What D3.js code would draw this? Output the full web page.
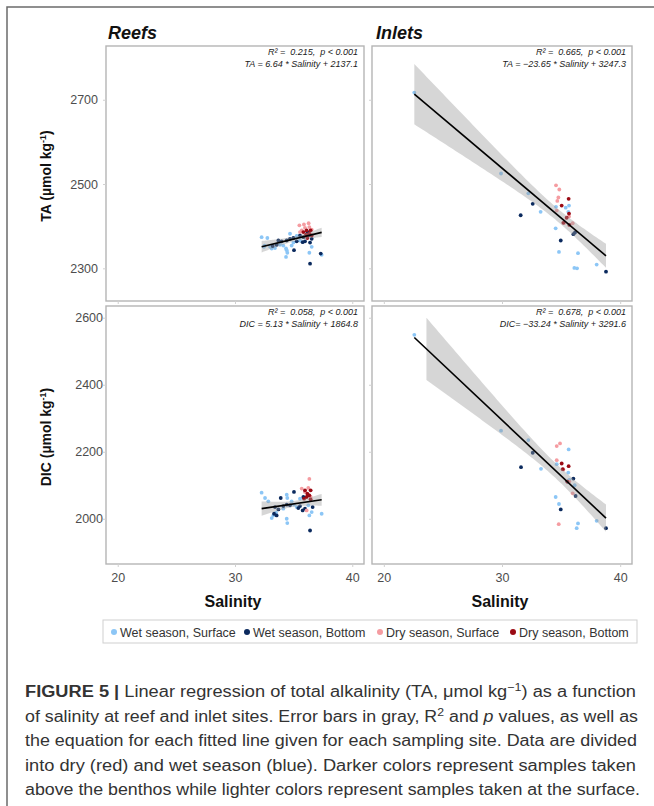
<!DOCTYPE html>
<html>
<head>
<meta charset="utf-8">
<script src="https://cdn.jsdelivr.net/npm/d3@7"></script>
<style>
  body { margin: 0; background: #fff; }
  svg { display: block; }
</style>
</head>
<body>
<svg id="chart" width="654" height="806"></svg>
<script>
(function () {
  'use strict';

  // axis ticks
  var salinityTicks = [20, 30, 40];
  var taTicks = [2300, 2500, 2700];
  var dicTicks = [2000, 2200, 2400, 2600];

  // groups: 0 wet/surface, 1 wet/bottom, 2 dry/surface, 3 dry/bottom
  var groupNames = ['Wet season, Surface', 'Wet season, Bottom', 'Dry season, Surface', 'Dry season, Bottom'];
  var groupColors = ['#8cc6f6', '#0b2a5e', '#f59ca1', '#9b0a14'];

  // [salinity, value, group]
  var reefTA = [
    [32.27, 2374, 0], [32.76, 2372, 0], [32.53, 2354, 0], [32.47, 2351, 0], [33.13, 2347, 0],
    [33.41, 2348, 0], [32.99, 2351, 0], [33.84, 2356, 0], [34.12, 2354, 0], [34.35, 2347, 0],
    [34.41, 2343, 0], [34.46, 2337, 0], [34.35, 2327, 0], [34.69, 2382, 0], [34.83, 2354, 0],
    [34.98, 2361, 0], [35.26, 2377, 0], [35.54, 2366, 0], [36.11, 2377, 0], [36.34, 2337, 0],
    [36.54, 2351, 0], [37.39, 2332, 0],
    [33.21, 2353, 1], [33.55, 2356, 1], [33.70, 2366, 1], [33.98, 2364, 1], [34.41, 2366, 1],
    [34.69, 2370, 1], [34.98, 2372, 1], [35.03, 2343, 1], [35.26, 2364, 1], [35.54, 2378, 1],
    [35.77, 2362, 1], [35.83, 2374, 1], [35.97, 2364, 1], [36.17, 2386, 1], [36.25, 2378, 1],
    [36.40, 2361, 1], [36.54, 2370, 1], [36.40, 2311, 1], [37.31, 2335, 1],
    [35.49, 2402, 2], [35.88, 2404, 2], [36.28, 2407, 2], [35.97, 2396, 2], [35.69, 2390, 2],
    [36.34, 2398, 2], [35.54, 2386, 2], [36.54, 2392, 2],
    [35.83, 2386, 3], [36.11, 2390, 3], [36.45, 2390, 3], [36.54, 2378, 3], [36.17, 2372, 3],
    [36.34, 2382, 3], [36.06, 2380, 3]
  ];
  var inletTA = [
    [22.58, 2717, 0], [29.92, 2525, 0], [32.23, 2478, 0], [33.27, 2434, 0], [34.57, 2446, 0],
    [35.39, 2444, 0], [35.67, 2449, 0], [35.61, 2434, 0], [34.54, 2395, 0], [34.82, 2339, 0],
    [36.43, 2336, 0], [36.12, 2301, 0], [36.35, 2300, 0], [38.01, 2309, 0],
    [31.58, 2426, 1], [32.60, 2453, 1], [34.97, 2366, 1], [36.04, 2381, 1], [36.18, 2385, 1],
    [38.80, 2292, 1],
    [34.57, 2497, 2], [34.85, 2487, 2], [34.77, 2468, 2], [34.68, 2460, 2], [34.63, 2437, 2],
    [35.28, 2408, 2], [35.98, 2407, 2], [35.67, 2423, 2],
    [35.64, 2465, 3], [35.05, 2449, 3], [35.67, 2430, 3], [35.47, 2420, 3], [35.19, 2408, 3],
    [35.70, 2403, 3]
  ];
  var reefDIC = [
    [32.27, 2078, 0], [32.56, 2062, 0], [32.84, 2052, 0], [33.27, 2010, 0], [33.13, 2002, 0],
    [33.50, 2018, 0], [34.12, 2030, 0], [34.41, 2072, 0], [34.46, 2062, 0], [34.41, 2000, 0],
    [34.46, 1987, 0], [34.83, 2052, 0], [35.03, 2042, 0], [35.26, 2035, 0], [35.54, 2060, 0],
    [35.97, 2082, 0], [36.25, 2040, 0], [36.34, 2010, 0], [36.54, 2020, 0], [37.39, 2015, 0],
    [33.33, 2015, 1], [33.41, 2035, 1], [33.55, 2010, 1], [33.70, 2028, 1], [33.90, 2062, 1],
    [34.12, 2038, 1], [34.41, 2042, 1], [34.69, 2040, 1], [35.03, 2080, 1], [35.40, 2032, 1],
    [35.54, 2038, 1], [35.77, 2025, 1], [35.83, 2065, 1], [35.97, 2030, 1], [36.25, 2070, 1],
    [36.62, 2035, 1], [36.40, 1965, 1],
    [35.69, 2090, 2], [36.25, 2092, 2], [35.97, 2080, 2], [36.45, 2065, 2], [36.11, 2025, 2],
    [36.34, 2119, 2],
    [35.97, 2085, 3], [36.45, 2085, 3], [36.17, 2075, 3], [36.34, 2070, 3], [36.11, 2065, 3],
    [36.45, 2058, 3], [35.89, 2060, 3]
  ];
  var inletDIC = [
    [22.58, 2549, 0], [29.92, 2263, 0], [32.23, 2235, 0], [33.30, 2149, 0], [34.63, 2163, 0],
    [35.64, 2207, 0], [35.61, 2138, 0], [35.70, 2116, 0], [34.54, 2065, 0], [34.82, 2044, 0],
    [36.15, 2100, 0], [36.43, 1986, 0], [36.32, 1972, 0], [38.01, 1994, 0],
    [31.61, 2154, 1], [32.60, 2197, 1], [34.97, 2028, 1], [36.04, 2120, 1], [36.23, 2068, 1],
    [38.80, 1972, 1], [35.53, 2111, 1],
    [34.63, 2217, 2], [34.91, 2225, 2], [34.63, 2175, 2], [35.19, 2147, 2], [35.98, 2076, 2],
    [34.80, 1984, 2], [35.70, 2111, 2],
    [35.05, 2165, 3], [35.64, 2157, 3], [35.14, 2148, 3], [35.53, 2111, 3]
  ];

  // fitted lines [slope, intercept] and printed stats
  var reefTAFit = [6.64, 2137.1];
  var inletTAFit = [-23.65, 3247.3];
  var reefDICFit = [5.13, 1864.8];
  var inletDICFit = [-33.24, 3291.6];
  var reefTAText = ['0.215', 'TA = 6.64 * Salinity + 2137.1'];
  var inletTAText = ['0.665', 'TA = \u221223.65 * Salinity + 3247.3'];
  var reefDICText = ['0.058', 'DIC = 5.13 * Salinity + 1864.8'];
  var inletDICText = ['0.678', 'DIC= \u221233.24 * Salinity + 3291.6'];

  var captionLines = [
    'Linear regression of total alkalinity (TA, \u03bcmol kg',
    'of salinity at reef and inlet sites. Error bars in gray, R',
    'the equation for each fitted line given for each sampling site. Data are divided',
    'into dry (red) and wet season (blue). Darker colors represent samples taken',
    'above the benthos while lighter colors represent samples taken at the surface.'
  ];

  var FONT = "'Liberation Sans', Arial, sans-serif";
  var svg = d3.select('#chart');

  svg.append('rect').attr('width', 654).attr('height', 806).attr('fill', '#fff');
  // figure frame (only top/left visible)
  svg.append('path').attr('d', 'M7,806V7H654').attr('fill', 'none')
    .attr('stroke', '#6b6b6b').attr('stroke-width', 1.5);

  var cols = [{ x0: 106, x1: 364 }, { x0: 372, x1: 632 }];
  var rows = [
    { y0: 46, y1: 301, domain: [2222.5, 2827.5], limits: [2250, 2800], ticks: taTicks, pad: 5 },
    { y0: 306, y1: 564, domain: [1865, 2635], limits: [1900, 2600], ticks: dicTicks, pad: 0 }
  ];

  var panels = [
    { r: 0, c: 0, data: reefTA, fit: reefTAFit, txt: reefTAText },
    { r: 0, c: 1, data: inletTA, fit: inletTAFit, txt: inletTAText },
    { r: 1, c: 0, data: reefDIC, fit: reefDICFit, txt: reefDICText },
    { r: 1, c: 1, data: inletDIC, fit: inletDICFit, txt: inletDICText }
  ];

  function tValue(df) { return 1.96 + 2.4 / df; }

  // confidence band around the printed line, like geom_smooth(se = TRUE)
  function band(data, fit, limits) {
    var n = data.length;
    var xbar = d3.mean(data, function (d) { return d[0]; });
    var sxx = d3.sum(data, function (d) { return (d[0] - xbar) * (d[0] - xbar); });
    var sse = d3.sum(data, function (d) {
      var e = d[1] - (fit[0] * d[0] + fit[1]);
      return e * e;
    });
    var sigma = Math.sqrt(sse / (n - 2));
    var t = tValue(n - 2);
    var ext = d3.extent(data, function (d) { return d[0]; });
    var out = [];
    for (var i = 0; i < 80; i++) {
      var x = ext[0] + (ext[1] - ext[0]) * i / 79;
      var yhat = fit[0] * x + fit[1];
      var se = sigma * Math.sqrt(1 / n + (x - xbar) * (x - xbar) / sxx);
      var lo = yhat - t * se, hi = yhat + t * se;
      if (lo >= limits[0] && hi <= limits[1]) out.push({ x: x, y: yhat, lo: lo, hi: hi });
    }
    return { pts: out, ext: ext };
  }

  panels.forEach(function (p) {
    var col = cols[p.c];
    var row = rows[p.r];
    var x = d3.scaleLinear().domain([19, 41]).range([col.x0, col.x1]);
    var y = d3.scaleLinear().domain(row.domain).range([row.y1, row.y0]);
    var g = svg.append('g');

    g.append('rect')
      .attr('x', col.x0).attr('y', row.y0)
      .attr('width', col.x1 - col.x0).attr('height', row.y1 - row.y0)
      .attr('fill', '#fff').attr('stroke', '#b5b5b5').attr('stroke-width', 1.4);

    // ticks (labels only on the outer panels)
    var ya = g.append('g').attr('transform', 'translate(' + col.x0 + ',0)')
      .call(d3.axisLeft(y).tickValues(row.ticks).tickSize(3).tickPadding(row.pad)
        .tickFormat(function (d) { return p.c === 0 ? d3.format('d')(d) : ''; }));
    ya.select('.domain').remove();
    ya.selectAll('line').attr('stroke', '#d0d0d0');
    ya.selectAll('text')
      .attr('fill', '#4d4d4d')
      .style('font-family', FONT).style('font-size', '12.5px');

    var xa = g.append('g').attr('transform', 'translate(0,' + row.y1 + ')')
      .call(d3.axisBottom(x).tickValues(salinityTicks).tickSize(3).tickPadding(6)
        .tickFormat(function (d) { return p.r === 1 ? d3.format('d')(d) : ''; }));
    xa.select('.domain').remove();
    xa.selectAll('line').attr('stroke', '#d0d0d0');
    xa.selectAll('text')
      .attr('fill', '#4d4d4d')
      .style('font-family', FONT).style('font-size', '12.5px');

    // points
    var sorted = p.data.slice().sort(function (a, b) { return a[2] - b[2]; });
    g.append('g').selectAll('circle')
      .data(sorted)
      .enter()
      .append('circle')
      .attr('cx', function (d) { return x(d[0]); })
      .attr('cy', function (d) { return y(d[1]); })
      .attr('r', 1.9)
      .attr('fill', function (d) { return groupColors[d[2]]; });

    // band + line
    var b = band(p.data, p.fit, row.limits);
    g.append('path')
      .datum(b.pts)
      .attr('fill', '#999999').attr('fill-opacity', 0.4)
      .attr('d', d3.area()
        .x(function (d) { return x(d.x); })
        .y0(function (d) { return y(d.lo); })
        .y1(function (d) { return y(d.hi); }));
    g.append('line')
      .attr('x1', x(b.ext[0])).attr('y1', y(p.fit[0] * b.ext[0] + p.fit[1]))
      .attr('x2', x(b.ext[1])).attr('y2', y(p.fit[0] * b.ext[1] + p.fit[1]))
      .attr('stroke', '#000').attr('stroke-width', 1.6);

    // stats text
    g.append('text')
      .attr('x', col.x1 - 6).attr('y', row.y0 + 9)
      .attr('text-anchor', 'end')
      .style('font-family', FONT).style('font-size', '9px').style('font-style', 'italic')
      .style('white-space', 'pre')
      .attr('fill', '#1a1a1a')
      .text('R\u00b2 =  ' + p.txt[0] + ',  p < 0.001');
    g.append('text')
      .attr('x', col.x1 - 6).attr('y', row.y0 + 21)
      .attr('text-anchor', 'end')
      .style('font-family', FONT).style('font-size', '9px').style('font-style', 'italic')
      .style('white-space', 'pre')
      .attr('fill', '#1a1a1a')
      .text(p.txt[1]);
  });

  // column titles
  [['Reefs', 108], ['Inlets', 376]].forEach(function (t) {
    svg.append('text').attr('x', t[1]).attr('y', 39)
      .style('font-family', FONT).style('font-size', '18px')
      .style('font-weight', 'bold').style('font-style', 'italic')
      .attr('fill', '#111').text(t[0]);
  });

  // x titles
  cols.forEach(function (c) {
    svg.append('text').attr('x', (c.x0 + c.x1) / 2 - 2).attr('y', 607)
      .attr('text-anchor', 'middle')
      .style('font-family', FONT).style('font-size', '16px').style('font-weight', 'bold')
      .attr('fill', '#111').text('Salinity');
  });

  // y titles
  [['TA', 176], ['DIC', 437]].forEach(function (t) {
    var yt = svg.append('text')
      .attr('transform', 'translate(51,' + t[1] + ') rotate(-90)')
      .attr('text-anchor', 'middle')
      .style('font-family', FONT).style('font-size', '14px').style('font-weight', 'bold')
      .attr('fill', '#111');
    yt.append('tspan').text(t[0] + ' (\u00b5mol kg');
    yt.append('tspan').attr('dy', -5).style('font-size', '9px').text('-1');
    yt.append('tspan').attr('dy', 5).text(')');
  });

  // legend
  var legend = svg.append('g');
  legend.append('rect').attr('x', 103).attr('y', 620).attr('width', 534).attr('height', 23)
    .attr('fill', '#fff').attr('stroke', '#cfcfcf').attr('stroke-width', 1);
  var legendX = d3.scalePoint().domain(groupNames).range([114, 513]);
  var item = legend.selectAll('g.item')
    .data(groupNames)
    .enter()
    .append('g')
    .attr('transform', function (d) { return 'translate(' + legendX(d) + ',632)'; });
  item.append('circle').attr('r', 3)
    .attr('fill', function (d, i) { return groupColors[i]; });
  item.append('text').attr('x', 6).attr('y', 4.5)
    .style('font-family', FONT).style('font-size', '12.5px')
    .attr('fill', '#333')
    .text(function (d) { return d; });

  // caption
  var capY = d3.scaleLinear().domain([0, 4]).range([697, 795]);
  var capLen = [611, 613, 612, 611, 615];
  captionLines.forEach(function (line, i) {
    var t = svg.append('text')
      .attr('x', 25).attr('y', capY(i))
      .attr('textLength', capLen[i]).attr('lengthAdjust', 'spacingAndGlyphs')
      .style('font-family', FONT).style('font-size', '16px')
      .attr('fill', '#333');
    if (i === 0) {
      t.append('tspan').style('font-weight', 'bold').text('FIGURE 5 | ');
      t.append('tspan').text(line);
      t.append('tspan').attr('dy', -6).style('font-size', '11px').text('\u22121');
      t.append('tspan').attr('dy', 6).text(') as a function');
    } else if (i === 1) {
      t.append('tspan').text(line);
      t.append('tspan').attr('dy', -6).style('font-size', '11px').text('2');
      t.append('tspan').attr('dy', 6).text(' and ');
      t.append('tspan').style('font-style', 'italic').text('p');
      t.append('tspan').text(' values, as well as');
    } else {
      t.text(line);
    }
  });
})();
</script>
</body>
</html>
